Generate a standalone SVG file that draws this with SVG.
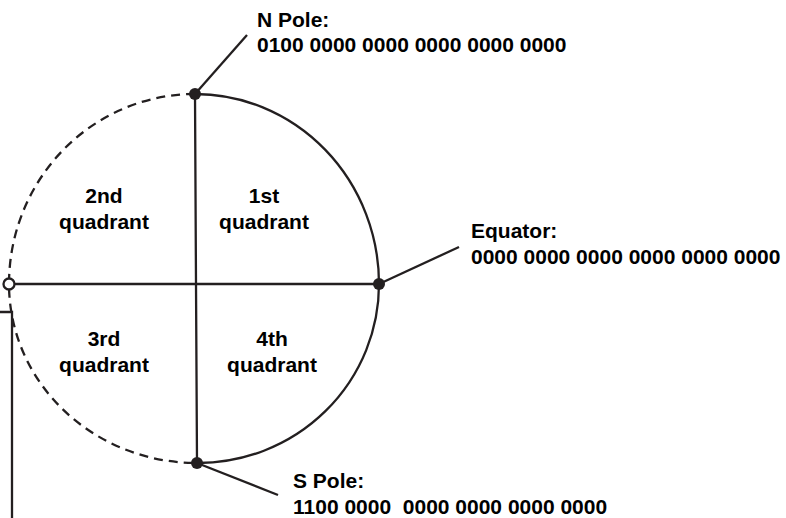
<svg xmlns="http://www.w3.org/2000/svg" width="786" height="518" viewBox="0 0 786 518">
<style>
.ln{stroke:#231f20;stroke-width:2.3;fill:none}
.dash{stroke:#231f20;stroke-width:2.3;fill:none;stroke-dasharray:9 6}
.dot{fill:#231f20}
.t{font-family:"Liberation Sans",Arial,sans-serif;font-weight:bold;font-size:21px;fill:#000}
.c{text-anchor:middle}
</style>
<rect width="786" height="518" fill="#fff"/>
<g id="connectors">
<path class="ln" d="M195,94 A184,190 0 0 1 379,284 A181,179 0 0 1 197,463"/>
<path class="dash" d="M195,94 A186,190 0 0 0 9,284 A188,179 0 0 0 197,463"/>
<path class="ln" d="M195,94 L196,284 L197,463"/>
<path class="ln" d="M15,284 L379,284"/>
<path class="ln" d="M195,94 L247,35"/>
<path class="ln" d="M379,284 L459,247"/>
<path class="ln" d="M197,463 L278,495"/>
<path class="ln" d="M0,312 L12,312 L12,518" stroke-width="1.6"/>
</g>
<g id="n-pole">
<circle class="dot" cx="195" cy="94" r="6"/>
<text class="t" x="257" y="27">N Pole:</text>
<text class="t" x="257" y="52">0100 0000 0000 0000 0000 0000</text>
</g>
<g id="equator">
<circle class="dot" cx="379" cy="284" r="6"/>
<text class="t" x="471" y="238">Equator:</text>
<text class="t" x="471" y="264">0000 0000 0000 0000 0000 0000</text>
</g>
<g id="s-pole">
<circle class="dot" cx="197" cy="463" r="6"/>
<text class="t" x="293" y="488">S Pole:</text>
<text class="t" x="293" y="514" xml:space="preserve" style="white-space:pre">1100 0000  0000 0000 0000 0000</text>
</g>
<g id="west-point">
<circle cx="9" cy="284" r="5.5" fill="#fff" stroke="#231f20" stroke-width="2.3"/>
</g>
<g id="q2">
<text class="t c" x="104" y="203">2nd</text>
<text class="t c" x="104" y="229">quadrant</text>
</g>
<g id="q1">
<text class="t c" x="264" y="203">1st</text>
<text class="t c" x="264" y="229">quadrant</text>
</g>
<g id="q3">
<text class="t c" x="104" y="346">3rd</text>
<text class="t c" x="104" y="372">quadrant</text>
</g>
<g id="q4">
<text class="t c" x="272" y="346">4th</text>
<text class="t c" x="272" y="372">quadrant</text>
</g>
</svg>
